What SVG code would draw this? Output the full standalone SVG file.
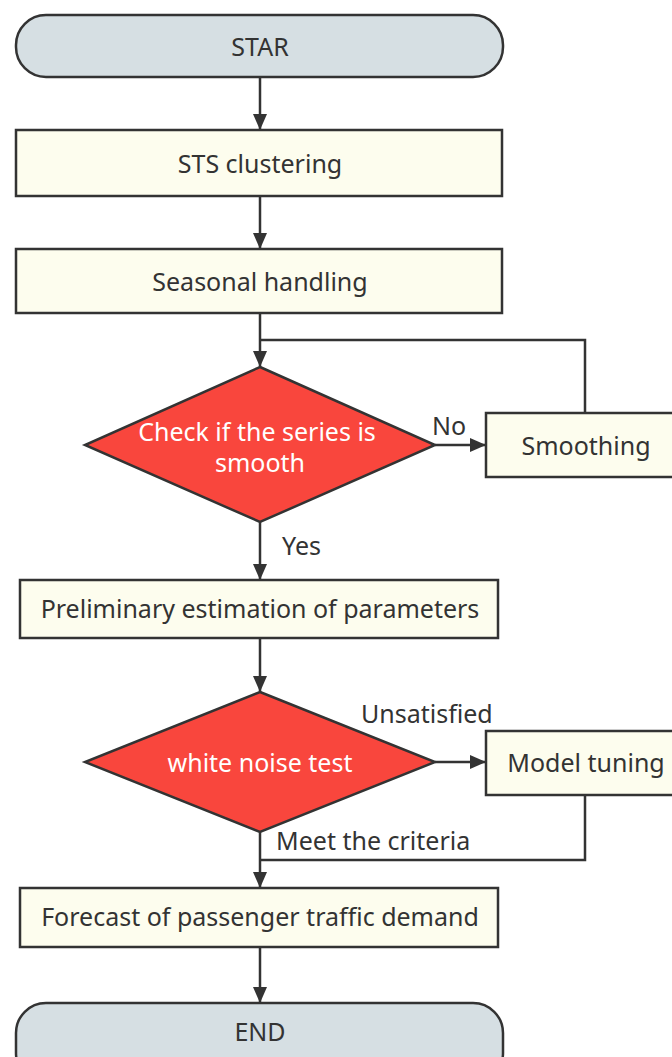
<svg xmlns="http://www.w3.org/2000/svg" width="672" height="1057" viewBox="0 0 672 1057">
<defs>
<style>
.term{fill:#d6dfe3;stroke:#333;stroke-width:2.5}
.box{fill:#fdfdee;stroke:#333;stroke-width:2.5}
.dia{fill:#f9463d;stroke:#333;stroke-width:2.5}
.t{font-family:"Noto Sans","Open Sans",sans-serif;font-size:25px;fill:#333;text-anchor:middle;dominant-baseline:central}
.w{fill:#fff}
.lbl{font-family:"Noto Sans","Open Sans",sans-serif;font-size:25px;fill:#333}
.ln{fill:none;stroke:#333;stroke-width:2.5}
</style>
<marker id="ah" markerWidth="16" markerHeight="14" refX="16" refY="7" orient="auto" markerUnits="userSpaceOnUse" viewBox="0 0 16 14">
<path d="M0,0 L16,7 L0,14 z" fill="#333"/>
</marker>
</defs>
<rect width="672" height="1057" fill="#fff"/>
<g id="connectors">
<line class="ln" x1="260" y1="77" x2="260" y2="130" marker-end="url(#ah)"/>
<line class="ln" x1="260" y1="196" x2="260" y2="249" marker-end="url(#ah)"/>
<line class="ln" x1="260" y1="313" x2="260" y2="367" marker-end="url(#ah)"/>
<polyline class="ln" points="585,413 585,340 260,340"/>
<line class="ln" x1="435" y1="445" x2="486" y2="445" marker-end="url(#ah)"/>
<line class="ln" x1="260" y1="522" x2="260" y2="580" marker-end="url(#ah)"/>
<line class="ln" x1="260" y1="638" x2="260" y2="692" marker-end="url(#ah)"/>
<line class="ln" x1="435" y1="762" x2="486" y2="762" marker-end="url(#ah)"/>
<polyline class="ln" points="585,795 585,860 260,860"/>
<line class="ln" x1="260" y1="832" x2="260" y2="888" marker-end="url(#ah)"/>
<line class="ln" x1="260" y1="947" x2="260" y2="1003" marker-end="url(#ah)"/>
<text class="lbl" x="432" y="435">No</text>
<text class="lbl" x="282" y="555">Yes</text>
<text class="lbl" x="361" y="723">Unsatisfied</text>
<text class="lbl" x="276" y="850">Meet the criteria</text>
</g>
<g id="start">
<rect class="term" x="16" y="15" width="487" height="62" rx="30" ry="30"/>
<text class="t" x="260" y="46">STAR</text>
</g>
<g id="sts">
<rect class="box" x="16" y="130" width="486" height="66"/>
<text class="t" x="260" y="163">STS clustering</text>
</g>
<g id="seasonal">
<rect class="box" x="16" y="249" width="486" height="64"/>
<text class="t" x="260" y="281">Seasonal handling</text>
</g>
<g id="check">
<polygon class="dia" points="260,367 435,445 260,522 85,445"/>
<text class="t w" x="257" y="431">Check if the series is</text>
<text class="t w" x="260" y="462">smooth</text>
</g>
<g id="smoothing">
<rect class="box" x="486" y="413" width="200" height="64"/>
<text class="t" x="586" y="445">Smoothing</text>
</g>
<g id="prelim">
<rect class="box" x="20" y="580" width="478" height="58"/>
<text class="t" x="260" y="608">Preliminary estimation of parameters</text>
</g>
<g id="whitenoise">
<polygon class="dia" points="260,692 435,762 260,832 85,762"/>
<text class="t w" x="260" y="762">white noise test</text>
</g>
<g id="tuning">
<rect class="box" x="486" y="731" width="200" height="64"/>
<text class="t" x="586" y="762">Model tuning</text>
</g>
<g id="forecast">
<rect class="box" x="20" y="888" width="478" height="59"/>
<text class="t" x="260" y="916">Forecast of passenger traffic demand</text>
</g>
<g id="end">
<rect class="term" x="16" y="1003" width="487" height="80" rx="30" ry="30"/>
<text class="t" x="260" y="1031">END</text>
</g>
</svg>
